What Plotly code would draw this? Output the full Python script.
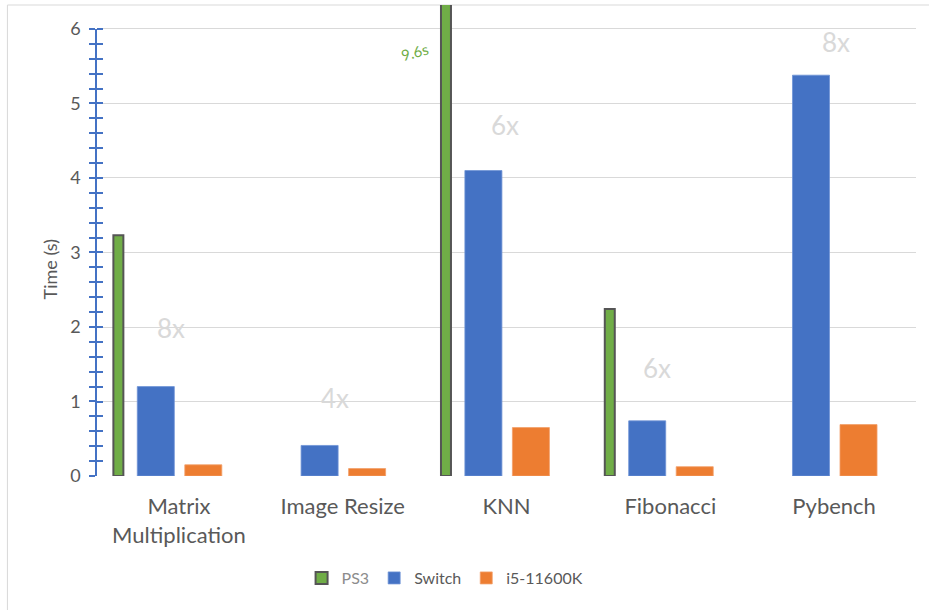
import plotly.graph_objects as go

categories = ["Matrix<br>Multiplication", "Image Resize", "KNN", "Fibonacci", "Pybench"]
ps3 = [3.23, None, 9.6, 2.24, None]
switch = [1.2, 0.41, 4.1, 0.74, 5.38]
i5 = [0.15, 0.10, 0.65, 0.125, 0.69]
speedup_labels = ["8x", "4x", "6x", "6x", "8x"]
speedup_y = [1.99, 1.05, 4.71, 1.45, 5.83]
speedup_shift = [-8, -8, -2, -13, 2]
ps3_note = "9.6s"
ps3_note_y = 5.69
y_ticks = [0, 1, 2, 3, 4, 5, 6]
y_minor_ticks = [round(0.2 * i, 1) for i in range(31)]
y_title = "Time (s)"

FONT = "Lato"
GRAY = "#595959"
BLUE = "#4472c4"
W, H = 929, 610
ML, MR, MT, MB = 96.6, 13.1, 5, 134
PW, PH = W - ML - MR, H - MT - MB
YMAX = 6.322

fig = go.Figure()
fig.add_trace(go.Bar(name="<span style='color:#8c8c8c'>PS3</span>", x=categories, y=ps3,
                     width=0.061, offset=-0.40,
                     marker=dict(color="#70ad47", line=dict(color="#555555", width=2))))
fig.add_trace(go.Bar(name="Switch", x=categories, y=switch, width=0.226, offset=-0.254,
                     marker=dict(color=BLUE, line=dict(color="#6f93d6", width=0.8))))
fig.add_trace(go.Bar(name="i5-11600K", x=categories, y=i5, width=0.226, offset=0.036,
                     marker=dict(color="#ed7d31", line=dict(color="#f3a06a", width=0.8))))
# invisible helper so the value-axis subplot exists
fig.add_trace(go.Scatter(x=[categories[0]], y=[0], yaxis="y2", mode="markers",
                         marker=dict(opacity=0), showlegend=False, hoverinfo="skip"))

annotations = []
for cat, lab, yy, sh in zip(categories, speedup_labels, speedup_y, speedup_shift):
    annotations.append(dict(x=cat, y=yy, text=lab, showarrow=False, xshift=sh,
                            font=dict(family=FONT, size=26, color="#d9d9d9")))
annotations.append(dict(x=categories[2], y=ps3_note_y, text=ps3_note, showarrow=False,
                        xshift=-92, textangle=-15,
                        font=dict(family=FONT, size=15, color="#70ad47")))
annotations.append(dict(xref="paper", yref="paper", x=(50 - ML) / PW, y=(476 - 269) / PH,
                        xanchor="center", yanchor="middle",
                        text=y_title, textangle=-90, showarrow=False,
                        font=dict(family=FONT, size=18, color=GRAY)))

dom_top = 6 / YMAX
fig.update_layout(
    width=W, height=H,
    margin=dict(l=ML, r=MR, t=MT, b=MB, autoexpand=False),
    paper_bgcolor="white", plot_bgcolor="rgba(0,0,0,0)",
    barmode="overlay",
    font=dict(family=FONT, color=GRAY),
    xaxis=dict(type="category", categoryorder="array", categoryarray=categories,
               range=[-0.5, 4.5], showgrid=False, zeroline=False, showline=False,
               ticks="", ticklabelstandoff=15, automargin=False,
               tickfont=dict(family=FONT, size=22, color=GRAY)),
    # bar axis: same px-per-second scale as yaxis2; carries grid + inner half of the ticks
    yaxis=dict(range=[0, YMAX], tickvals=y_ticks, showticklabels=False, automargin=False,
               showgrid=True, gridcolor="#d9d9d9", gridwidth=1, zeroline=False,
               showline=False, ticks="inside", ticklen=6, tickcolor=BLUE, tickwidth=1.5,
               minor=dict(tickvals=y_minor_ticks, ticks="inside", ticklen=6,
                          tickcolor=BLUE, tickwidth=1.5, showgrid=False)),
    # visible value axis: line, outer half of ticks, labels
    yaxis2=dict(domain=[0, dom_top], range=[0, 6], anchor="x", side="left", automargin=False,
                showgrid=False, zeroline=False, showline=True, linecolor=BLUE, linewidth=1.5,
                tickvals=y_ticks, ticks="outside", ticklen=6, tickcolor=BLUE, tickwidth=1.5,
                minor=dict(dtick=0.2, ticks="outside", ticklen=6, tickcolor=BLUE, tickwidth=1.5),
                ticklabelstandoff=5,
                tickfont=dict(family=FONT, size=18, color=GRAY)),
    legend=dict(orientation="h", x=0.425, xanchor="center", y=-0.2166, yanchor="middle",
                font=dict(family=FONT, size=16, color=GRAY), itemwidth=30, tracegroupgap=0),
    annotations=annotations,
    shapes=[dict(type="rect", xref="paper", yref="paper", x0=(7 - ML) / PW, x1=1.05,
                 y0=-0.35, y1=1.0, line=dict(color="#d9d9d9", width=1), layer="below")],
    showlegend=True,
)

fig.write_html("out.html")
